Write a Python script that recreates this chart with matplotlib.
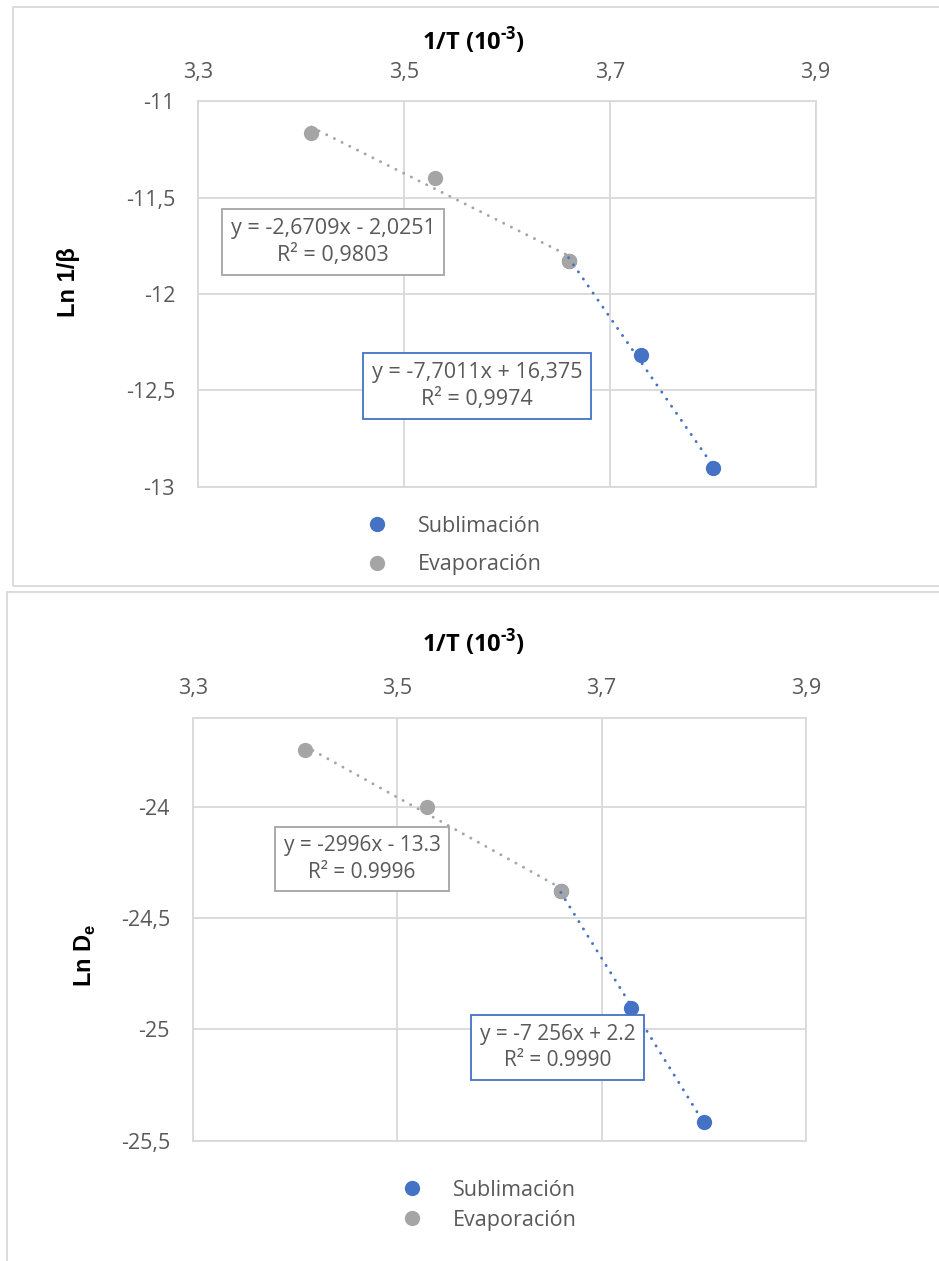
import numpy as np
import matplotlib
matplotlib.use('Agg')
import matplotlib.pyplot as plt
from matplotlib.ticker import FixedLocator, FuncFormatter
from matplotlib.patches import Rectangle

# Datos: 1/T (10^-3 K^-1) frente a Ln 1/beta y Ln De
x_sub_1 = [3.660, 3.730, 3.800]
y_sub_1 = [-11.826, -12.317, -12.903]
x_eva_1 = [3.410, 3.530, 3.660]
y_eva_1 = [-11.163, -11.397, -11.826]

x_sub_2 = [3.660, 3.729, 3.800]
y_sub_2 = [-24.38, -24.904, -25.415]
x_eva_2 = [3.410, 3.529, 3.660]
y_eva_2 = [-23.745, -24.00, -24.38]

# Ecuaciones de tendencia del primer grafico
coef_sub_1 = (-7.7011, 16.375)
coef_eva_1 = (-2.6709, -2.0251)

etiq_sub_1 = 'y = -7,7011x + 16,375\nR² = 0,9974'
etiq_eva_1 = 'y = -2,6709x - 2,0251\nR² = 0,9803'
etiq_sub_2 = 'y = -7 256x + 2.2\nR² = 0.9990'
etiq_eva_2 = 'y = -2996x - 13.3\nR² = 0.9996'

xticks = [3.3, 3.5, 3.7, 3.9]
yticks_1 = [-11, -11.5, -12, -12.5, -13]
yticks_2 = [-24, -24.5, -25, -25.5]

AZUL = '#4472C4'
GRIS = '#A5A5A5'
TEXTO = '#595959'
REJILLA = '#D9D9D9'

plt.rcParams['font.family'] = ['Open Sans', 'DejaVu Sans']
plt.rcParams['mathtext.fontset'] = 'custom'
plt.rcParams['mathtext.rm'] = 'Open Sans:bold'
plt.rcParams['mathtext.sf'] = 'Liberation Sans:bold'

W, H = 939, 1261
fig = plt.figure(figsize=(W / 100, H / 100), dpi=100)


def fx(px):
    return px / W


def fy(py):
    return 1 - py / H


def coma(v, pos=None):
    return f'{v:g}'.replace('.', ',')


def panel(caja, ylim, yticks, xs, ys, xe, ye, c_sub, c_eva, et_sub, et_eva,
          pos_sub, pos_eva, fs_caja, titulo_y, ylab_y, ylab_x, ylabel, leyenda, sep):
    l, t, r, b = caja
    ax = fig.add_axes([fx(l), fy(b), fx(r) - fx(l), fy(t) - fy(b)])
    ax.set_xlim(3.3, 3.9)
    ax.set_ylim(*ylim)
    ax.xaxis.tick_top()
    ax.xaxis.set_major_locator(FixedLocator(xticks))
    ax.yaxis.set_major_locator(FixedLocator(yticks))
    ax.xaxis.set_major_formatter(FuncFormatter(coma))
    ax.yaxis.set_major_formatter(FuncFormatter(coma))
    ax.tick_params(axis='x', length=0, pad=13.5, labelsize=15.5, labelcolor=TEXTO)
    ax.tick_params(axis='y', length=0, pad=16.5, labelsize=15.5, labelcolor=TEXTO)
    ax.grid(True, color=REJILLA, lw=1.3)
    ax.set_axisbelow(True)
    for s in ax.spines.values():
        s.set_color(REJILLA)
        s.set_linewidth(1.3)

    ax.plot(xs, ys, 'o', color=AZUL, ms=11, mew=0, label='Sublimación', zorder=3)
    ax.plot(xe, ye, 'o', color=GRIS, ms=11, mew=0, label='Evaporación', zorder=4)

    # lineas de tendencia punteadas (por encima de los puntos)
    punteado = (0, (0.05, 2.9))
    xx = np.array([xe[0], xe[-1]])
    ax.plot(xx, c_eva[0] * xx + c_eva[1], color=GRIS, lw=2.1,
            ls=punteado, dash_capstyle='round', zorder=5)
    xx = np.array([xs[0], xs[-1]])
    ax.plot(xx, c_sub[0] * xx + c_sub[1], color=AZUL, lw=2.1,
            ls=punteado, dash_capstyle='round', zorder=6)

    fig.text(fx(pos_eva[0]), fy(pos_eva[1]), et_eva, ha='center', va='center',
             ma='center', fontsize=fs_caja, color=TEXTO, linespacing=1.35,
             bbox=dict(boxstyle='square,pad=0.4', fc='white', ec=GRIS, lw=1.3))
    fig.text(fx(pos_sub[0]), fy(pos_sub[1]), et_sub, ha='center', va='center',
             ma='center', fontsize=fs_caja, color=TEXTO, linespacing=1.35,
             bbox=dict(boxstyle='square,pad=0.4', fc='white', ec=AZUL, lw=1.3))

    fig.text(fx(473), fy(titulo_y), r'1/T (10$^{\text{-3}}$)', ha='center',
             va='baseline', fontsize=17, fontweight='bold', color='black')
    fig.text(fx(ylab_x), fy(ylab_y), ylabel, rotation=90, ha='center', va='center',
             fontsize=17, fontweight='bold', family='Liberation Sans', color='black')

    ax.legend(loc='upper left', bbox_to_anchor=(fx(leyenda[0]), fy(leyenda[1])),
              bbox_transform=fig.transFigure, frameon=False, fontsize=15.5,
              labelcolor=TEXTO, handlelength=1.0, handletextpad=1.4,
              borderpad=0, borderaxespad=0, labelspacing=sep)
    return ax


panel((198, 101.4, 815.6, 486.8), (-13, -11), yticks_1,
      x_sub_1, y_sub_1, x_eva_1, y_eva_1, coef_sub_1, coef_eva_1,
      etiq_sub_1, etiq_eva_1, (477, 386), (333, 242), 15.5,
      50, 282, 68, 'Ln 1/β', (366, 516), 0.8)

# en el segundo grafico las ecuaciones estan en 1/K, se ajusta sobre los puntos
coef_sub_2 = np.polyfit(x_sub_2, y_sub_2, 1)
coef_eva_2 = np.polyfit(x_eva_2, y_eva_2, 1)
panel((192.8, 717.6, 806, 1140.7), (-25.5, -23.6), yticks_2,
      x_sub_2, y_sub_2, x_eva_2, y_eva_2, coef_sub_2, coef_eva_2,
      etiq_sub_2, etiq_eva_2, (557.5, 1047.5), (362, 859), 15,
      652, 955, 85, r'Ln D$_{\mathsf{e}}$', (401, 1180), 0.4)

# marcos de los dos graficos
fig.add_artist(Rectangle((fx(13), fy(586)), 1.2, fy(6.5) - fy(586), fill=False,
                         ec=REJILLA, lw=1.3, transform=fig.transFigure))
fig.add_artist(Rectangle((fx(7), -0.2), 1.2, fy(592) + 0.2, fill=False,
                         ec=REJILLA, lw=1.3, transform=fig.transFigure))

fig.savefig('out.png', dpi=100, facecolor='white')
